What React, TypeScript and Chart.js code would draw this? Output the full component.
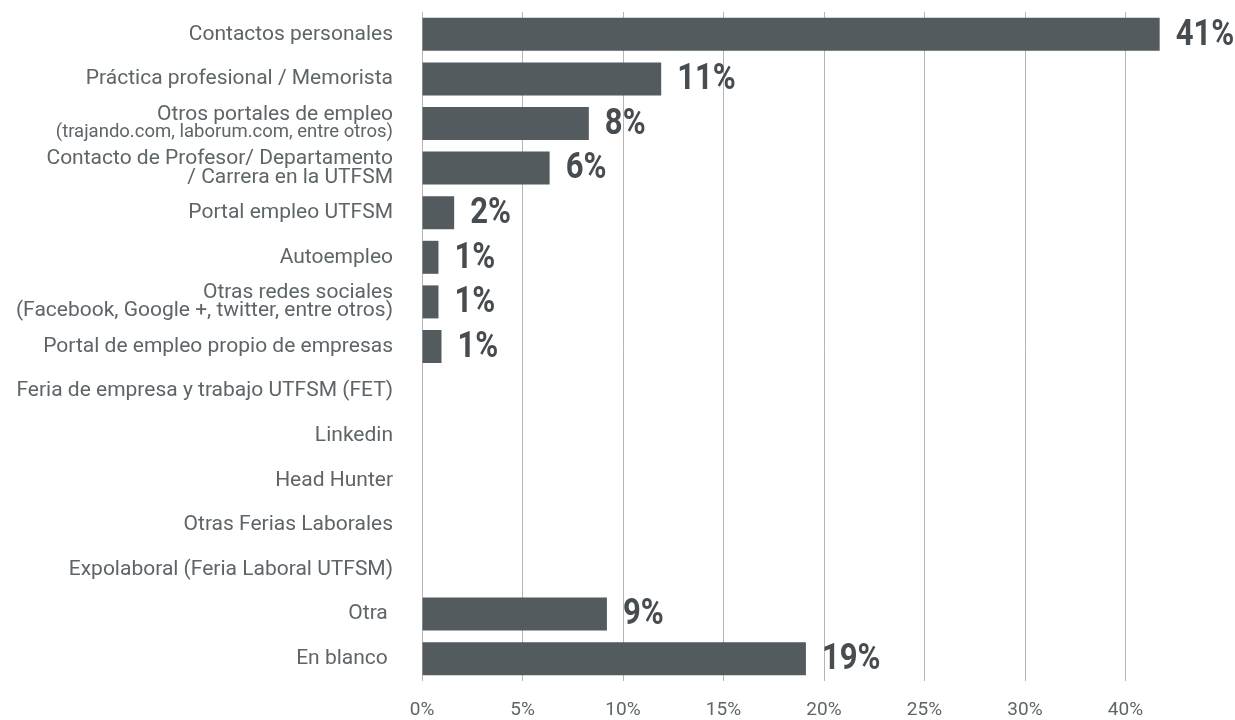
import React, { useEffect, useRef } from "react";
import { Chart, registerables } from "chart.js";

Chart.register(...registerables);

// ---- Data ----
const categories: string[][] = [
  ["Contactos personales"],
  ["Práctica profesional / Memorista"],
  ["Otros portales de empleo", "(trajando.com, laborum.com, entre otros)"],
  ["Contacto de Profesor/ Departamento", "/ Carrera en la UTFSM"],
  ["Portal empleo UTFSM"],
  ["Autoempleo"],
  ["Otras redes sociales", "(Facebook, Google +, twitter, entre otros)"],
  ["Portal de empleo propio de empresas"],
  ["Feria de empresa y trabajo UTFSM (FET)"],
  ["Linkedin"],
  ["Head Hunter"],
  ["Otras Ferias Laborales"],
  ["Expolaboral (Feria Laboral UTFSM)"],
  ["Otra "],
  ["En blanco "],
];

// bar lengths as read against the drawn axis
const barValues: number[] = [36.7, 11.9, 8.3, 6.35, 1.6, 0.82, 0.82, 0.97, 0, 0, 0, 0, 0, 9.2, 19.1];

// value labels printed next to the bars
const valueLabels: string[] = ["41%", "11%", "8%", "6%", "2%", "1%", "1%", "1%", "", "", "", "", "", "9%", "19%"];

// x-axis tick labels (as printed in the reference)
const xTickLabels: string[] = ["0%", "5%", "10%", "15%", "20%", "25%", "30%", "40%", ""];

// ---- Styles ----
const BAR_COLOR = "#535b5e";
const TEXT_COLOR = "#5d6568";
const VALUE_COLOR = "#464c4f";
const GRID_COLOR = "#b4b4b4";
const FONT = "Roboto, 'Noto Sans', sans-serif";
const SMALL_SUBLINE = new Set([2]);
const CANVAS_W = 1235;
const CANVAS_H = 720;

const categoryLabelPlugin = {
  id: "categoryLabels",
  afterDraw(chart: any) {
    const { ctx, chartArea } = chart;
    const yScale = chart.scales.y;
    const xRight = chartArea.left - 29;
    ctx.save();
    ctx.fillStyle = TEXT_COLOR;
    ctx.textAlign = "right";
    ctx.textBaseline = "middle";
    categories.forEach((lines, i) => {
      const yc = yScale.getPixelForValue(i);
      const small = SMALL_SUBLINE.has(i);
      const sizes = lines.map((_, j) => (j > 0 && small ? 18.5 : 21));
      const spacing = small ? 17.5 : 18.5;
      const n = lines.length;
      lines.forEach((line, j) => {
        ctx.font = `${sizes[j]}px ${FONT}`;
        const y = yc + (j - (n - 1) / 2) * spacing;
        ctx.fillText(line, xRight, y);
      });
    });
    ctx.restore();
  },
};

const valueLabelPlugin = {
  id: "valueLabels",
  afterDatasetsDraw(chart: any) {
    const { ctx } = chart;
    const meta = chart.getDatasetMeta(0);
    ctx.save();
    ctx.fillStyle = VALUE_COLOR;
    ctx.font = `bold 37px ${FONT}`;
    ctx.textAlign = "left";
    ctx.textBaseline = "middle";
    meta.data.forEach((bar: any, i: number) => {
      const text = valueLabels[i];
      if (!text) return;
      ctx.save();
      ctx.translate(bar.x + 16, bar.y + 1);
      ctx.scale(0.84, 1);
      ctx.fillText(text, 0, 0);
      ctx.restore();
    });
    ctx.restore();
  },
};

export default function App() {
  const canvasRef = useRef<HTMLCanvasElement | null>(null);

  useEffect(() => {
    if (!canvasRef.current) return;
    const chart = new Chart(canvasRef.current, {
      type: "bar",
      data: {
        labels: categories.map((c) => c.join(" ")),
        datasets: [
          {
            data: barValues,
            backgroundColor: BAR_COLOR,
            borderWidth: 0,
            categoryPercentage: 1,
            barPercentage: 0.74,
          },
        ],
      },
      options: {
        indexAxis: "y",
        animation: false,
        responsive: false,
        maintainAspectRatio: false,
        devicePixelRatio: 1,
        layout: { padding: { top: 12, right: 9, left: 0, bottom: 0 } },
        plugins: { legend: { display: false }, tooltip: { enabled: false } },
        scales: {
          x: {
            min: 0,
            max: 40,
            ticks: {
              stepSize: 5,
              autoSkip: false,
              maxRotation: 0,
              callback: (_v: any, i: number) => xTickLabels[i],
              color: TEXT_COLOR,
              font: { family: FONT, size: 19, lineHeight: 1 },
              padding: 20,
            },
            grid: {
              color: (ctx: any) => (ctx.tick && ctx.tick.value === 40 ? "rgba(0,0,0,0)" : GRID_COLOR),
              drawTicks: false,
              lineWidth: 1,
            },
            border: { display: false },
            afterFit: (scale: any) => {
              scale.height = 39;
              scale.paddingLeft = 0;
              scale.paddingRight = 0;
            },
          },
          y: {
            ticks: { display: false },
            grid: { display: false },
            border: { display: false },
            afterFit: (scale: any) => {
              scale.width = 422;
              scale.paddingTop = 0;
              scale.paddingBottom = 0;
            },
          },
        },
      } as any,
      plugins: [categoryLabelPlugin, valueLabelPlugin],
    });
    return () => chart.destroy();
  }, []);

  return (
    <div style={{ position: "fixed", left: 0, top: 0, width: CANVAS_W, height: CANVAS_H }}>
      <canvas
        ref={canvasRef}
        width={CANVAS_W}
        height={CANVAS_H}
        style={{ display: "block", width: CANVAS_W, height: CANVAS_H }}
      />
    </div>
  );
}
